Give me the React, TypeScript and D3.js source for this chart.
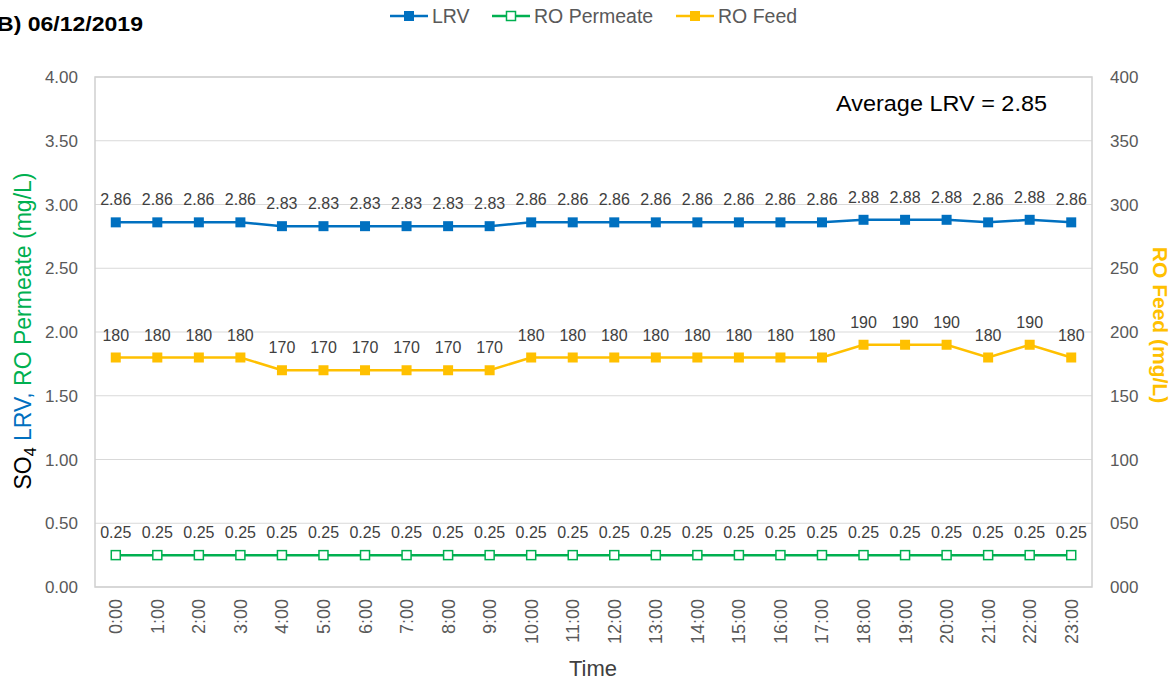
import React from "react";
import * as d3 from "d3";

const hours = ["0:00","1:00","2:00","3:00","4:00","5:00","6:00","7:00","8:00","9:00","10:00","11:00","12:00","13:00","14:00","15:00","16:00","17:00","18:00","19:00","20:00","21:00","22:00","23:00"];
const lrv = [2.86,2.86,2.86,2.86,2.83,2.83,2.83,2.83,2.83,2.83,2.86,2.86,2.86,2.86,2.86,2.86,2.86,2.86,2.88,2.88,2.88,2.86,2.88,2.86];
const roPermeate = [0.25,0.25,0.25,0.25,0.25,0.25,0.25,0.25,0.25,0.25,0.25,0.25,0.25,0.25,0.25,0.25,0.25,0.25,0.25,0.25,0.25,0.25,0.25,0.25];
const roFeed = [180,180,180,180,170,170,170,170,170,170,180,180,180,180,180,180,180,180,190,190,190,180,190,180];
const leftTicks = [0,0.5,1,1.5,2,2.5,3,3.5,4];
const rightTicks = [0,50,100,150,200,250,300,350,400];

const C_LRV = "#0070C0";
const C_PERM = "#00B050";
const C_FEED = "#FFC000";
const FONT = "Arial, 'Liberation Sans', sans-serif";

export default function App() {
  const W = 1176, H = 681;
  const L = 95, R = 1092, T = 77, B = 587;
  const x = d3.scaleBand<string>().domain(hours).range([L, R]);
  const cx = (i: number) => (x(hours[i]) as number) + x.bandwidth() / 2;
  const yL = d3.scaleLinear().domain([0, 4]).range([B, T]);
  const yR = d3.scaleLinear().domain([0, 400]).range([B, T]);

  const lineL = d3.line<number>().x((_, i) => cx(i)).y(d => yL(d));
  const lineR = d3.line<number>().x((_, i) => cx(i)).y(d => yR(d));

  return (
    <svg width={W} height={H} style={{ position: "absolute", left: 0, top: 0, fontFamily: FONT }}>
      <rect x={0} y={0} width={W} height={H} fill="#fff" />
      {/* title */}
      <text x={-3} y={31} fontSize={20} fontWeight="bold" fill="#000" textLength={146} lengthAdjust="spacingAndGlyphs">B) 06/12/2019</text>
      {/* legend */}
      <g fontSize={19.5} fill="#595959">
        <line x1={390} x2={428} y1={16} y2={16} stroke={C_LRV} strokeWidth={2.5} />
        <rect x={404} y={11} width={10} height={10} fill={C_LRV} />
        <text x={432} y={23}>LRV</text>
        <line x1={492} x2={530} y1={16} y2={16} stroke={C_PERM} strokeWidth={2.5} />
        <rect x={506.5} y={11.5} width={9} height={9} fill="#fff" stroke={C_PERM} strokeWidth={1.5} />
        <text x={534} y={23}>RO Permeate</text>
        <line x1={676} x2={714} y1={16} y2={16} stroke={C_FEED} strokeWidth={2.5} />
        <rect x={690} y={11} width={10} height={10} fill={C_FEED} />
        <text x={718} y={23}>RO Feed</text>
      </g>
      {/* grid */}
      {leftTicks.map(t => (
        <line key={t} x1={L} x2={R} y1={yL(t)} y2={yL(t)} stroke="#d9d9d9" strokeWidth={1.2} />
      ))}
      <rect x={L} y={T} width={R - L} height={B - T} fill="none" stroke="#d0d0d0" strokeWidth={1.5} />
      {/* left ticks */}
      {leftTicks.map(t => (
        <text key={t} x={78} y={yL(t) + 6} textAnchor="end" fontSize={17} fill="#595959">{t.toFixed(2)}</text>
      ))}
      {/* right ticks */}
      {rightTicks.map(t => (
        <text key={t} x={1110} y={yR(t) + 6} textAnchor="start" fontSize={17} fill="#595959">{d3.format("03d")(t)}</text>
      ))}
      {/* x ticks */}
      {hours.map((h, i) => (
        <text key={h} transform={`translate(${cx(i) + 6.5},599) rotate(-90)`} textAnchor="end" fontSize={18} fill="#595959">{h}</text>
      ))}
      {/* axis titles */}
      <text x={593} y={676} textAnchor="middle" fontSize={22} fill="#404040">Time</text>
      <text transform={`translate(31,${331}) rotate(-90)`} textAnchor="middle" fontSize={23}>
        <tspan fill="#000">SO</tspan>
        <tspan fill="#000" fontSize={16} dy={5}>4</tspan>
        <tspan fill={C_LRV} dy={-5}> LRV, </tspan>
        <tspan fill={C_PERM}>RO Permeate (mg/L)</tspan>
      </text>
      <text transform={`translate(1153,325) rotate(90)`} textAnchor="middle" fontSize={21} fontWeight="bold" fill={C_FEED}>RO Feed (mg/L)</text>
      {/* lines */}
      <path d={lineL(lrv) as string} fill="none" stroke={C_LRV} strokeWidth={2.5} />
      <path d={lineL(roPermeate) as string} fill="none" stroke={C_PERM} strokeWidth={2.5} />
      <path d={lineR(roFeed) as string} fill="none" stroke={C_FEED} strokeWidth={2.5} />
      {/* markers & labels */}
      {lrv.map((v, i) => (
        <g key={"l" + i}>
          <rect x={cx(i) - 5} y={yL(v) - 5} width={10} height={10} fill={C_LRV} />
          <text x={cx(i)} y={yL(v) - 17} textAnchor="middle" fontSize={16} fill="#404040">{v.toFixed(2)}</text>
        </g>
      ))}
      {roPermeate.map((v, i) => (
        <g key={"p" + i}>
          <rect x={cx(i) - 4.5} y={yL(v) - 4.5} width={9} height={9} fill="#fff" stroke={C_PERM} strokeWidth={1.5} />
          <text x={cx(i)} y={yL(v) - 17} textAnchor="middle" fontSize={16} fill="#404040">{v.toFixed(2)}</text>
        </g>
      ))}
      {roFeed.map((v, i) => (
        <g key={"f" + i}>
          <rect x={cx(i) - 5} y={yR(v) - 5} width={10} height={10} fill={C_FEED} />
          <text x={cx(i)} y={yR(v) - 17} textAnchor="middle" fontSize={16} fill="#404040">{v}</text>
        </g>
      ))}
      <text x={836} y={111} fontSize={22} fill="#000" textLength={211} lengthAdjust="spacingAndGlyphs">Average LRV = 2.85</text>
    </svg>
  );
}
